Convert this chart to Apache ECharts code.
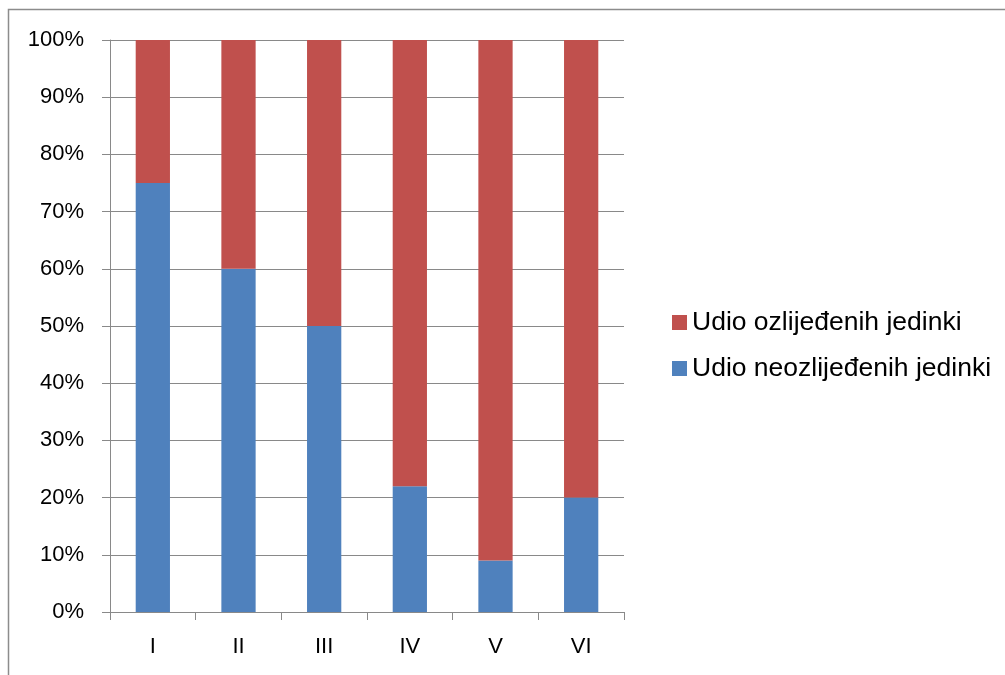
<!DOCTYPE html>
<html>
<head>
<meta charset="utf-8">
<script src="https://cdn.jsdelivr.net/npm/echarts@6/dist/echarts.min.js"></script>
<style>
html,body{margin:0;padding:0;background:#fff;}
#c{width:1005px;height:675px;}
</style>
</head>
<body>
<div id="c"></div>
<script>
const categories = ['I', 'II', 'III', 'IV', 'V', 'VI'];
const uninjured = [75, 60, 50, 22, 9, 20];
const injured = [25, 40, 50, 78, 91, 80];
const seriesNames = ['Udio ozlijeđenih jedinki', 'Udio neozlijeđenih jedinki'];
const yTicks = { min: 0, max: 100, interval: 10 };

const chart = echarts.init(document.getElementById('c'));
const font = '"Liberation Sans", Arial, sans-serif';
chart.setOption({
  animation: false,
  backgroundColor: '#fff',
  graphic: [{
    type: 'rect',
    shape: { x: 8.5, y: 9.5, width: 1100, height: 1000 },
    style: { fill: 'none', stroke: '#8c8c8c', lineWidth: 1.5 },
    silent: true
  }],
  grid: { left: 110, top: 40, width: 514, height: 572, containLabel: false },
  legend: {
    orient: 'vertical',
    left: 667,
    top: 304,
    itemWidth: 15,
    itemHeight: 15,
    itemGap: 19,
    itemGap: 19,
    icon: 'rect',
    data: [seriesNames[0], seriesNames[1]],
    textStyle: { fontFamily: font, fontSize: 26.5, color: '#000' }
  },
  xAxis: {
    type: 'category',
    data: categories,
    axisLine: { show: true, lineStyle: { color: '#898989', width: 1 } },
    axisTick: { show: true, length: 8, inside: false, lineStyle: { color: '#898989' } },
    axisLabel: { fontFamily: font, fontSize: 22, color: '#000', margin: 24 },
    splitLine: { show: false }
  },
  yAxis: {
    type: 'value',
    min: yTicks.min,
    max: yTicks.max,
    interval: yTicks.interval,
    axisLine: { show: true, lineStyle: { color: '#898989', width: 1 } },
    axisTick: { show: true, length: 8, lineStyle: { color: '#898989' } },
    axisLabel: { fontFamily: font, fontSize: 22, color: '#000', margin: 26, formatter: '{value}%' },
    splitLine: { show: true, lineStyle: { color: '#898989', width: 1 } }
  },
  series: [
    {
      name: seriesNames[1],
      type: 'bar',
      stack: 'total',
      data: uninjured,
      barWidth: '40%',
      itemStyle: { color: '#4F81BD' }
    },
    {
      name: seriesNames[0],
      type: 'bar',
      stack: 'total',
      data: injured,
      barWidth: '40%',
      itemStyle: { color: '#C0504D' }
    }
  ]
});
</script>
</body>
</html>
